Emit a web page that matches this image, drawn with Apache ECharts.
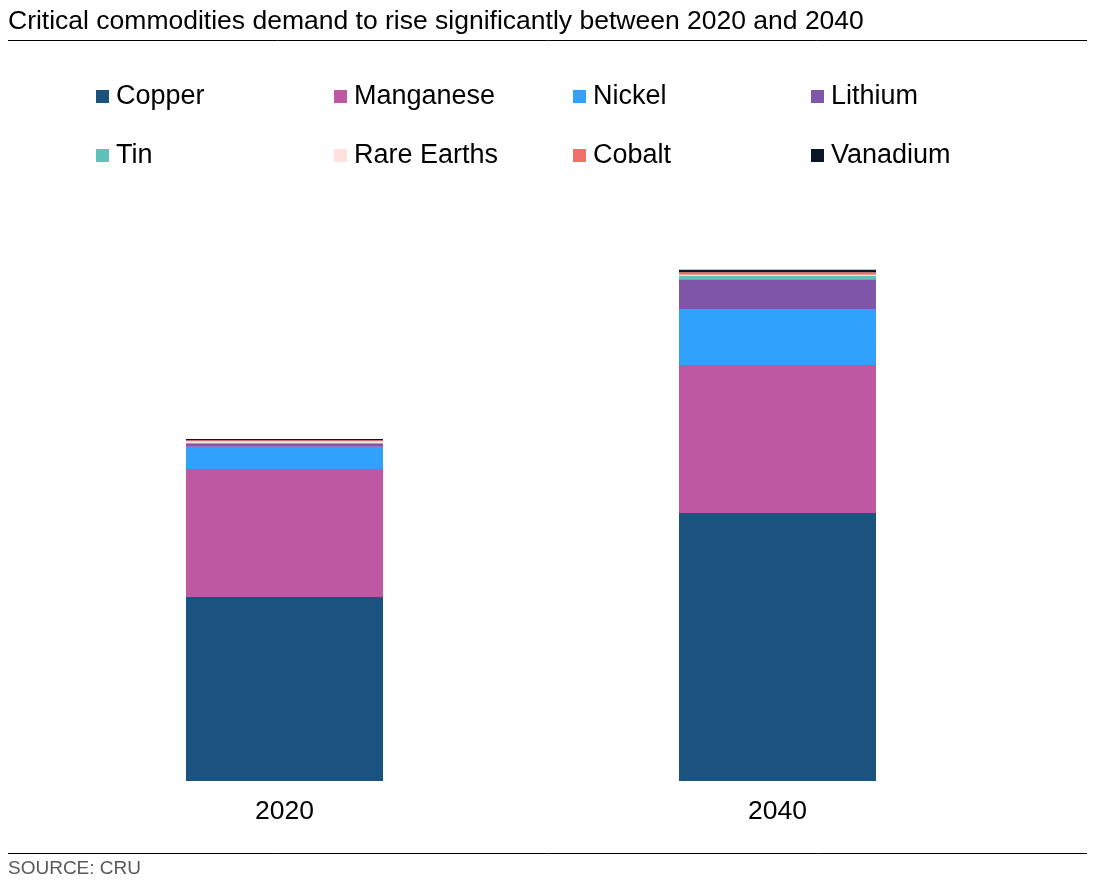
<!DOCTYPE html>
<html><head><meta charset="utf-8">
<script src="https://cdn.jsdelivr.net/npm/echarts@6/dist/echarts.min.js"></script>
<style>html,body{margin:0;padding:0;background:#fff}#c{width:1100px;height:890px}</style>
</head><body><div id="c"></div>
<script>
const categories = ['2020', '2040'];
const seriesNames = ['Copper','Manganese','Nickel','Lithium','Tin','Rare Earths','Cobalt','Vanadium'];
const copper = [184, 268];
const manganese = [128, 148];
const nickel = [22.3, 56];
const lithium = [2.7, 29.7];
const tin = [1.3, 3.3];
const rareEarths = [1.4, 1.3];
const cobalt = [1.0, 2.4];
const vanadium = [1.3, 2.6];
const values = [copper, manganese, nickel, lithium, tin, rareEarths, cobalt, vanadium];
const colors = ['#1a5280','#bf58a3','#30a2fc','#8057a8','#5fc1b8','#fde1df','#f07167','#0a1628'];

const font = 'Arial, "Liberation Sans", sans-serif';
const colX = [96, 334, 573, 811];
const rowY = [83, 142];
const legends = seriesNames.map((n, i) => ({
  data: [n], left: colX[i % 4], top: rowY[Math.floor(i / 4)], padding: 0,
  icon: 'rect', itemWidth: 13, itemHeight: 13, itemGap: 0,
  textStyle: {fontFamily: font, fontSize: 27, color: '#000', padding: [0,0,0,2]},
  selectedMode: false
}));

const chart = echarts.init(document.getElementById('c'));
chart.setOption({
  animation: false,
  title: [
    {text: 'Critical commodities demand to rise significantly between 2020 and 2040', left: 3, top: 3,
     textStyle: {fontFamily: font, fontSize: 26.5, fontWeight: 'normal', color: '#000'}},
    {text: 'SOURCE: CRU', left: 3, top: 854,
     textStyle: {fontFamily: font, fontSize: 19, fontWeight: 'normal', color: '#595959'}}
  ],
  legend: legends,
  graphic: [
    {type: 'line', shape: {x1: 8, y1: 40.5, x2: 1087, y2: 40.5}, style: {stroke: '#000', lineWidth: 1}},
    {type: 'line', shape: {x1: 8, y1: 853.5, x2: 1087, y2: 853.5}, style: {stroke: '#000', lineWidth: 1}}
  ],
  grid: {left: 38, width: 986, top: 181, height: 600},
  xAxis: {type: 'category', data: categories,
    axisLine: {show: false}, axisTick: {show: false},
    axisLabel: {fontFamily: font, fontSize: 26.5, color: '#000', margin: 17}},
  yAxis: {type: 'value', min: 0, max: 600, show: false, splitLine: {show: false}},
  series: seriesNames.map((n, i) => ({
    name: n, type: 'bar', stack: 'total', data: values[i], barWidth: 197,
    itemStyle: {color: colors[i]}
  }))
});
</script></body></html>
